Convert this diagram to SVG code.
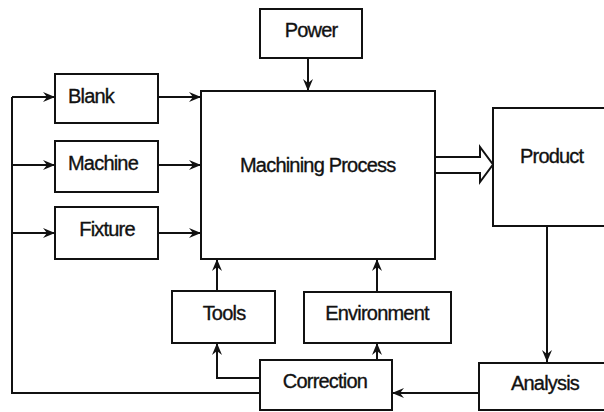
<svg xmlns="http://www.w3.org/2000/svg" width="604" height="412" viewBox="0 0 604 412">
<style>
.box{fill:#fff;stroke:#111;stroke-width:2}
.t{font-family:"Liberation Sans",Arial,sans-serif;font-size:20px;fill:#111;stroke:#111;stroke-width:0.35;letter-spacing:-0.8px}
.c{fill:none;stroke:#111;stroke-width:2}
</style>
<defs>
<marker id="ah" viewBox="0 0 12 10" refX="12" refY="5" markerWidth="12" markerHeight="10" markerUnits="userSpaceOnUse" orient="auto">
<path d="M0,0 L12,5 L0,10 L4,5 z" fill="#111"/>
</marker>
</defs>
<rect width="604" height="412" fill="#fff"/>
<g id="connectors">
<path class="c" d="M12,97 V393 H260"/>
<path class="c" d="M12,97 H55" marker-end="url(#ah)"/>
<path class="c" d="M12,165 H55" marker-end="url(#ah)"/>
<path class="c" d="M12,233 H55" marker-end="url(#ah)"/>
<path class="c" d="M158,97 H201" marker-end="url(#ah)"/>
<path class="c" d="M158,165 H201" marker-end="url(#ah)"/>
<path class="c" d="M158,233 H201" marker-end="url(#ah)"/>
<path class="c" d="M308,58 V91" marker-end="url(#ah)"/>
<path class="c" d="M217,291 V259" marker-end="url(#ah)"/>
<path class="c" d="M260,378 H217 V343" marker-end="url(#ah)"/>
<path class="c" d="M377,292 V259" marker-end="url(#ah)"/>
<path class="c" d="M377,360 V343" marker-end="url(#ah)"/>
<path class="c" d="M547,226 V362" marker-end="url(#ah)"/>
<path class="c" d="M479,393 H392" marker-end="url(#ah)"/>
<path fill="#fff" stroke="#111" stroke-width="2" d="M435,157 H480 V147 L493,164.5 L480,182 V173 H435 Z"/>
</g>
<g id="power"><rect class="box" x="260" y="9" width="102" height="49"/><text class="t" x="311" y="37" text-anchor="middle">Power</text></g>
<g id="blank"><rect class="box" x="55" y="74" width="103" height="49"/><text class="t" x="68" y="103">Blank</text></g>
<g id="machine"><rect class="box" x="55" y="141" width="103" height="51"/><text class="t" x="68" y="170">Machine</text></g>
<g id="fixture"><rect class="box" x="55" y="207" width="103" height="52"/><text class="t" x="107" y="236" text-anchor="middle">Fixture</text></g>
<g id="machining-process"><rect class="box" x="201" y="91" width="234" height="168"/><text class="t" x="240" y="172">Machining Process</text></g>
<g id="product"><rect class="box" x="493" y="108" width="120" height="118"/><text class="t" x="520" y="163">Product</text></g>
<g id="tools"><rect class="box" x="172" y="291" width="103" height="52"/><text class="t" x="224" y="320" text-anchor="middle">Tools</text></g>
<g id="environment"><rect class="box" x="304" y="292" width="147" height="51"/><text class="t" x="377" y="320" text-anchor="middle">Environment</text></g>
<g id="correction"><rect class="box" x="260" y="360" width="132" height="50"/><text class="t" x="325" y="388" text-anchor="middle">Correction</text></g>
<g id="analysis"><rect class="box" x="479" y="363" width="135" height="47"/><text class="t" x="545" y="390" text-anchor="middle">Analysis</text></g>
</svg>
